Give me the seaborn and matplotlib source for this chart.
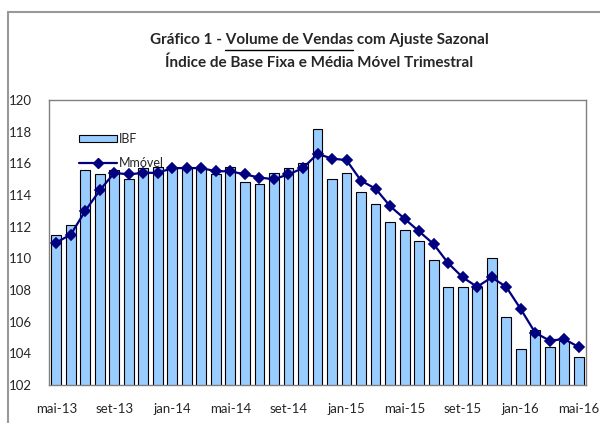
import numpy as np
import pandas as pd
import matplotlib.pyplot as plt
import seaborn as sns
from matplotlib.patches import Patch
from matplotlib.lines import Line2D

# Dados (mai-13 a mai-16)
meses = ["mai-13", "jun-13", "jul-13", "ago-13", "set-13", "out-13", "nov-13", "dez-13",
         "jan-14", "fev-14", "mar-14", "abr-14", "mai-14", "jun-14", "jul-14", "ago-14",
         "set-14", "out-14", "nov-14", "dez-14", "jan-15", "fev-15", "mar-15", "abr-15",
         "mai-15", "jun-15", "jul-15", "ago-15", "set-15", "out-15", "nov-15", "dez-15",
         "jan-16", "fev-16", "mar-16", "abr-16", "mai-16"]

ibf = [111.5, 112.1, 115.6, 115.3, 115.6, 115.0, 115.7, 115.8,
       115.8, 115.8, 115.7, 115.3, 115.8, 114.8, 114.7, 115.4,
       115.7, 116.0, 118.2, 115.0, 115.4, 114.2, 113.4, 112.3,
       111.8, 111.1, 109.9, 108.2, 108.2, 108.2, 110.0, 106.3,
       104.3, 105.5, 104.4, 104.8, 103.8]

mmovel = [111.0, 111.5, 113.0, 114.3, 115.4, 115.3, 115.4, 115.4,
          115.7, 115.7, 115.7, 115.5, 115.5, 115.3, 115.1, 115.0,
          115.3, 115.7, 116.6, 116.3, 116.2, 114.9, 114.4, 113.3,
          112.5, 111.7, 110.9, 109.7, 108.8, 108.2, 108.8, 108.2,
          106.8, 105.3, 104.8, 104.9, 104.4]

yticks = list(range(102, 121, 2))

cor_barra = "#99CCFF"
cor_linha = "#000080"

sns.set_style("white")
plt.rcParams["font.family"] = ["Lato", "DejaVu Sans"]

fig = plt.figure(figsize=(6, 4.23), dpi=100)
ax = fig.add_axes([49/600, 1 - 385/423, 537/600, 285/423])

dados = pd.DataFrame({"mes": meses, "IBF": ibf, "Mmovel": mmovel})

sns.barplot(data=dados, x="mes", y="IBF", color=cor_barra, saturation=1,
            edgecolor="black", linewidth=0.8, width=0.68, ax=ax)
sns.pointplot(data=dados, x="mes", y="Mmovel", color=cor_linha, markers="D",
              linestyles="-", markersize=5, linewidth=1.6, ax=ax)

ax.set_ylim(102, 120)
ax.set_xlim(-0.5, len(meses) - 0.5)
ax.set_yticks(yticks)
ax.set_yticklabels([str(v) for v in yticks], fontsize=9.5)
ax.set_xticks(range(0, len(meses), 4))
ax.set_xticklabels(meses[::4], fontsize=9.5)
ax.tick_params(axis="both", length=0)
ax.tick_params(axis="y", pad=12)
ax.tick_params(axis="x", pad=13)
ax.set_xlabel("")
ax.set_ylabel("")
for lado in ax.spines.values():
    lado.set_color("#808080")
    lado.set_linewidth(1.0)

# Legenda
handles = [Patch(facecolor=cor_barra, edgecolor="black", linewidth=0.8),
           Line2D([], [], color=cor_linha, marker="D", markersize=5, linewidth=1.6)]
ax.legend(handles, ["IBF", "Mmóvel"], loc="upper left", bbox_to_anchor=(0.035, 0.925),
          frameon=False, fontsize=9, handlelength=3.0, handleheight=0.5,
          handletextpad=0.2, labelspacing=1.0)

# Moldura externa
fig.add_artist(Line2D([8/600, 8/600], [0, 1 - 12/423], color="#999999", linewidth=1.5))
fig.add_artist(Line2D([8/600, 1], [1 - 12/423, 1 - 12/423], color="#999999", linewidth=1.5))

# Título
tam_titulo = 11
fig.text(319/600, 1 - 40/423, "Gráfico 1 - Volume de Vendas com Ajuste Sazonal",
         ha="center", va="center", fontsize=tam_titulo, fontweight="bold")
fig.text(319/600, 1 - 63/423, "Índice de Base Fixa e Média Móvel Trimestral",
         ha="center", va="center", fontsize=tam_titulo, fontweight="bold")

# Sublinhado de "Volume de Vendas"
fig.canvas.draw()
renderer = fig.canvas.get_renderer()
t_total = fig.text(0, 0, "Gráfico 1 - Volume de Vendas com Ajuste Sazonal", fontsize=tam_titulo, fontweight="bold")
t_pre = fig.text(0, 0, "Gráfico 1 - ", fontsize=tam_titulo, fontweight="bold")
t_ate = fig.text(0, 0, "Gráfico 1 - Volume de Vendas", fontsize=tam_titulo, fontweight="bold")
w_total = t_total.get_window_extent(renderer).width
w_pre = t_pre.get_window_extent(renderer).width
w_ate = t_ate.get_window_extent(renderer).width
for t in (t_total, t_pre, t_ate):
    t.remove()
x0 = 319 - w_total / 2 + w_pre
x1 = 319 - w_total / 2 + w_ate
fig.add_artist(Line2D([x0/600, x1/600], [1 - 50/423, 1 - 50/423], color="black", linewidth=1.0))

fig.savefig("out.png", dpi=100)
